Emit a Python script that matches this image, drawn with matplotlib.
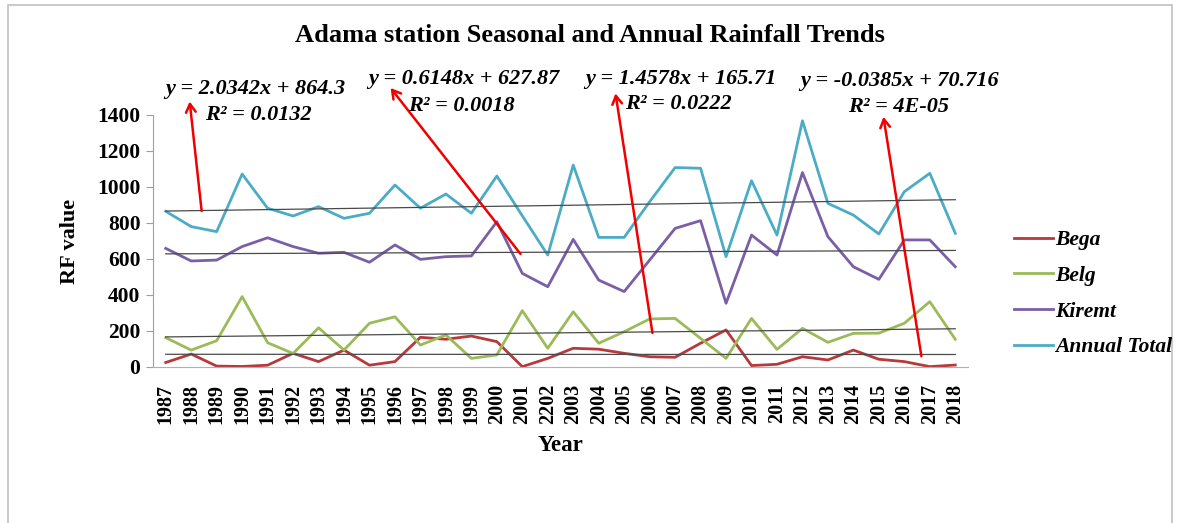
import matplotlib
matplotlib.use("Agg")
import matplotlib.pyplot as plt
from matplotlib.patches import Rectangle
import numpy as np

# ---- data ----
years = ["1987", "1988", "1989", "1990", "1991", "1992", "1993", "1994",
         "1995", "1996", "1997", "1998", "1999", "2000", "2001", "2202",
         "2003", "2004", "2005", "2006", "2007", "2008", "2009", "2010",
         "2011", "2012", "2013", "2014", "2015", "2016", "2017", "2018"]

bega = [25, 72, 5, 3, 10, 76, 30, 94, 10, 30, 165, 154, 172, 141, 2, 48,
        104, 99, 76, 57, 54, 132, 206, 8, 15, 57, 39, 94, 43, 30, 2, 11]
belg = [163, 94, 146, 391, 135, 75, 218, 94, 243, 279, 122, 178, 48, 67, 313, 104,
        307, 132, 196, 267, 270, 159, 48, 270, 98, 215, 137, 187, 188, 243, 363, 154]
kiremt = [659, 589, 594, 669, 718, 669, 632, 637, 582, 678, 598, 613, 617, 807, 520, 446,
          709, 483, 419, 594, 770, 813, 354, 733, 622, 1080, 724, 557, 487, 706, 706, 557]
annual = [865, 780, 752, 1072, 882, 839, 891, 826, 854, 1011, 882, 961, 854, 1061, 840, 622,
          1122, 720, 720, 918, 1108, 1104, 613, 1035, 733, 1368, 909, 844, 739, 974, 1076, 743]

series_names = ["Bega", "Belg", "Kiremt", "Annual Total"]
series_colors = ["#B8393B", "#9BBB59", "#7A5FA6", "#4BACC6"]

# linear trend equations (slope, intercept, R2) shown above the plot
trend_slope = [2.0342, 0.6148, 1.4578, -0.0385]
trend_icept = [864.3, 627.87, 165.71, 70.716]
trend_r2 = ["0.0132", "0.0018", "0.0222", "4E-05"]

W, H = 1178, 523
fig = plt.figure(figsize=(W / 100, H / 100), dpi=100)
ax = fig.add_axes([153 / W, 1 - 367 / H, 815 / W, 252 / H])

serif = "Liberation Serif"
x = np.arange(len(years))

for vals, name, col in zip([bega, belg, kiremt, annual], series_names, series_colors):
    ax.plot(x, vals, color=col, lw=2.0, label=name, solid_joinstyle="round")

# trend lines (x runs 1..n as in the spreadsheet)
xt = np.arange(1, len(years) + 1)
for s, b in zip(trend_slope, trend_icept):
    ax.plot(x, s * xt + b, color="#4a4a4a", lw=0.9)

ax.set_xlim(-0.5, len(years) - 0.5)
ax.set_ylim(0, 1400)
ax.set_yticks(range(0, 1401, 200))
ax.set_xticks(x)
ax.set_xticklabels(years, rotation=90, fontfamily=serif, fontweight="bold", fontsize=14.5)
for lab in ax.get_yticklabels():
    lab.set_fontfamily(serif)
    lab.set_fontweight("bold")
    lab.set_fontsize(15.5)
ax.tick_params(axis="y", length=5, color="#a0a0a0", pad=4)
ax.tick_params(axis="x", length=0, pad=12)
for side in ["top", "right"]:
    ax.spines[side].set_visible(False)
ax.spines["left"].set_color("#a0a0a0")
ax.spines["bottom"].set_color("#b0b0b0")

ax.set_xlabel("Year", fontfamily=serif, fontweight="bold", fontsize=16.5, labelpad=8)
ax.set_ylabel("RF value", fontfamily=serif, fontweight="bold", fontsize=16, labelpad=12)

fig.text(590 / W, 1 - 35 / H, "Adama station Seasonal and Annual Rainfall Trends",
         ha="center", va="center", fontfamily=serif, fontweight="bold", fontsize=19)

# equation labels: (eq left, eq y, R2 left, R2 y) in pixels
eq_pos = [(165, 89, 205, 115), (368, 79, 408, 106), (585, 79, 625, 104), (800, 81, 848, 107)]
for (ex, ey, rx, ry), s, b, r2 in zip(eq_pos, trend_slope, trend_icept, trend_r2):
    eq = f"y = {s:g}x + {b:g}"
    fig.text(ex / W, 1 - ey / H, eq, ha="left", va="center", fontfamily=serif,
             fontweight="bold", fontstyle="italic", fontsize=16)
    fig.text(rx / W, 1 - ry / H, f"R² = {r2}", ha="left", va="center", fontfamily=serif,
             fontweight="bold", fontstyle="italic", fontsize=16)

# red pointer arrows from trend lines up to labels
arrows = [((1.41, 867), (0.94, 1475)),
          ((13.93, 628), (8.83, 1550)),
          ((19.11, 189), (17.66, 1520)),
          ((29.67, 60), (28.18, 1390))]
for tail, head in arrows:
    ax.annotate("", xy=head, xytext=tail, annotation_clip=False,
                arrowprops=dict(arrowstyle="->,head_length=0.6,head_width=0.35",
                                color="#F00000", lw=1.8, shrinkA=0, shrinkB=0))

leg = fig.legend(loc="upper left", bbox_to_anchor=(995 / W, 1 - 211 / H), frameon=False,
                 handlelength=1.8, handletextpad=0.1, labelspacing=0.72,
                 prop=dict(family=serif, weight="bold", style="italic", size=15.5))

# chart area border
fig.patches.append(Rectangle((8 / W, -0.02), 1164 / W, 1.02 - 5 / H, transform=fig.transFigure,
                             fill=False, edgecolor="#c0c0c0", lw=1.2))

fig.savefig("out.png", dpi=100)
